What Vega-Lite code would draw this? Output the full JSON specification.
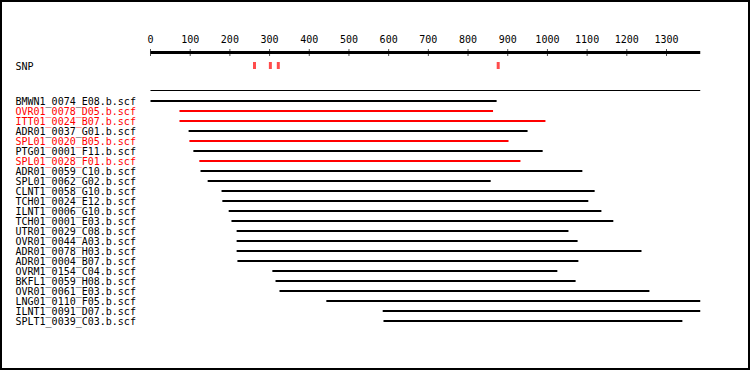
{
  "$schema": "https://vega.github.io/schema/vega-lite/v6.json",
  "width": 750,
  "height": 370,
  "padding": 1,
  "autosize": {"type": "fit", "contains": "padding"},
  "background": "#ffffff",
  "config": {
    "view": {"stroke": "#000000", "strokeWidth": 2},
    "axis": {
      "labelFont": "DejaVu Sans Mono",
      "labelFontSize": 10,
      "labelColor": "#000000",
      "domain": false,
      "ticks": false,
      "tickSize": 0,
      "grid": false,
      "minExtent": 0,
      "maxExtent": 0
    }
  },
  "datasets": {
    "tracks": [
      {"track": "axis", "start": 0, "end": 1385},
      {"track": "consensus", "start": 0, "end": 1385}
    ],
    "ticks": [
      {"track": "axis", "value": 0}, {"track": "axis", "value": 100}, {"track": "axis", "value": 200},
      {"track": "axis", "value": 300}, {"track": "axis", "value": 400}, {"track": "axis", "value": 500},
      {"track": "axis", "value": 600}, {"track": "axis", "value": 700}, {"track": "axis", "value": 800},
      {"track": "axis", "value": 900}, {"track": "axis", "value": 1000}, {"track": "axis", "value": 1100},
      {"track": "axis", "value": 1200}, {"track": "axis", "value": 1300}
    ],
    "snps": [
      {"track": "SNP", "position": 262},
      {"track": "SNP", "position": 302},
      {"track": "SNP", "position": 322},
      {"track": "SNP", "position": 876}
    ],
    "reads": [
      {"read": "BMWN1_0074_E08.b.scf", "start": 0, "end": 872, "selected": "no"},
      {"read": "OVR01_0078_D05.b.scf", "start": 73, "end": 863, "selected": "yes"},
      {"read": "ITT01_0024_B07.b.scf", "start": 73, "end": 995, "selected": "yes"},
      {"read": "ADR01_0037_G01.b.scf", "start": 96, "end": 950, "selected": "no"},
      {"read": "SPL01_0020_B05.b.scf", "start": 98, "end": 902, "selected": "yes"},
      {"read": "PTG01_0001_F11.b.scf", "start": 108, "end": 988, "selected": "no"},
      {"read": "SPL01_0028_F01.b.scf", "start": 123, "end": 932, "selected": "yes"},
      {"read": "ADR01_0059_C10.b.scf", "start": 126, "end": 1088, "selected": "no"},
      {"read": "SPL01_0062_G02.b.scf", "start": 144, "end": 857, "selected": "no"},
      {"read": "CLNT1_0058_G10.b.scf", "start": 179, "end": 1119, "selected": "no"},
      {"read": "TCH01_0024_E12.b.scf", "start": 181, "end": 1103, "selected": "no"},
      {"read": "ILNT1_0006_G10.b.scf", "start": 197, "end": 1136, "selected": "no"},
      {"read": "TCH01_0001_E03.b.scf", "start": 204, "end": 1166, "selected": "no"},
      {"read": "UTR01_0029_C08.b.scf", "start": 217, "end": 1053, "selected": "no"},
      {"read": "OVR01_0044_A03.b.scf", "start": 217, "end": 1076, "selected": "no"},
      {"read": "ADR01_0078_H03.b.scf", "start": 217, "end": 1237, "selected": "no"},
      {"read": "ADR01_0004_B07.b.scf", "start": 219, "end": 1078, "selected": "no"},
      {"read": "OVRM1_0154_C04.b.scf", "start": 307, "end": 1025, "selected": "no"},
      {"read": "BKFL1_0059_H08.b.scf", "start": 315, "end": 1071, "selected": "no"},
      {"read": "OVR01_0061_E03.b.scf", "start": 325, "end": 1257, "selected": "no"},
      {"read": "LNG01_0110_F05.b.scf", "start": 443, "end": 1385, "selected": "no"},
      {"read": "ILNT1_0091_D07.b.scf", "start": 585, "end": 1385, "selected": "no"},
      {"read": "SPLT1_0039_C03.b.scf", "start": 587, "end": 1340, "selected": "no"}
    ]
  },
  "layer": [
    {
      "layer": [
        {
          "data": {"name": "tracks"},
          "mark": {"type": "rule", "color": "#000000"},
          "encoding": {
            "x": {
              "field": "start", "type": "quantitative",
              "scale": {"domain": [-376.65, 1507.86], "nice": false, "zero": false},
              "axis": null
            },
            "x2": {"field": "end"},
            "y": {
              "field": "track", "type": "nominal",
              "scale": {"type": "point", "domain": ["axis", "consensus"], "range": [51.5, 89.5], "padding": 0},
              "axis": null
            },
            "strokeWidth": {"condition": {"test": "datum.track === 'axis'", "value": 3}, "value": 1}
          }
        },
        {
          "data": {"name": "ticks"},
          "mark": {"type": "tick", "color": "#000000", "thickness": 1, "size": 7},
          "encoding": {
            "x": {
              "field": "value", "type": "quantitative",
              "scale": {"domain": [-376.65, 1507.86], "nice": false, "zero": false},
              "axis": null
            },
            "y": {"field": "track", "type": "nominal", "axis": null}
          }
        },
        {
          "data": {"name": "ticks"},
          "mark": {
            "type": "text", "color": "#000000", "font": "DejaVu Sans Mono", "fontSize": 10,
            "align": "center", "baseline": "alphabetic", "dy": -9.5
          },
          "encoding": {
            "x": {
              "field": "value", "type": "quantitative",
              "scale": {"domain": [-376.65, 1507.86], "nice": false, "zero": false},
              "axis": null
            },
            "y": {"field": "track", "type": "nominal", "axis": null},
            "text": {"field": "value", "type": "quantitative", "format": "d"}
          }
        }
      ]
    },
    {
      "data": {"name": "snps"},
      "mark": {"type": "tick", "color": "#ff0000", "thickness": 3, "size": 7},
      "encoding": {
        "x": {
          "field": "position", "type": "quantitative",
          "scale": {"domain": [-376.65, 1507.86], "nice": false, "zero": false},
          "axis": null
        },
        "y": {
          "field": "track", "type": "nominal",
          "scale": {"type": "point", "domain": ["SNP"], "range": [64.5, 64.5], "padding": 0},
          "axis": {
            "orient": "left", "title": null, "labelAlign": "left", "labelPadding": -14,
            "labelBaseline": "alphabetic", "labelOffset": 3.5
          }
        }
      }
    },
    {
      "data": {"name": "reads"},
      "mark": {"type": "rule", "strokeWidth": 2},
      "encoding": {
        "x": {
          "field": "start", "type": "quantitative",
          "scale": {"domain": [-376.65, 1507.86], "nice": false, "zero": false},
          "axis": null
        },
        "x2": {"field": "end"},
        "y": {
          "field": "read", "type": "nominal",
          "scale": {
            "type": "point",
            "domain": [
              "BMWN1_0074_E08.b.scf", "OVR01_0078_D05.b.scf", "ITT01_0024_B07.b.scf",
              "ADR01_0037_G01.b.scf", "SPL01_0020_B05.b.scf", "PTG01_0001_F11.b.scf",
              "SPL01_0028_F01.b.scf", "ADR01_0059_C10.b.scf", "SPL01_0062_G02.b.scf",
              "CLNT1_0058_G10.b.scf", "TCH01_0024_E12.b.scf", "ILNT1_0006_G10.b.scf",
              "TCH01_0001_E03.b.scf", "UTR01_0029_C08.b.scf", "OVR01_0044_A03.b.scf",
              "ADR01_0078_H03.b.scf", "ADR01_0004_B07.b.scf", "OVRM1_0154_C04.b.scf",
              "BKFL1_0059_H08.b.scf", "OVR01_0061_E03.b.scf", "LNG01_0110_F05.b.scf",
              "ILNT1_0091_D07.b.scf", "SPLT1_0039_C03.b.scf"
            ],
            "range": [100, 320],
            "padding": 0
          },
          "axis": {
            "orient": "left", "title": null, "labelAlign": "left", "labelPadding": -14,
            "labelBaseline": "alphabetic", "labelOffset": 3, "labelLimit": 300,
            "labelColor": {
              "condition": {
                "test": "indexof(['OVR01_0078_D05.b.scf','ITT01_0024_B07.b.scf','SPL01_0020_B05.b.scf','SPL01_0028_F01.b.scf'], datum.value) >= 0",
                "value": "#ff0000"
              },
              "value": "#000000"
            }
          }
        },
        "color": {
          "field": "selected", "type": "nominal",
          "scale": {"domain": ["no", "yes"], "range": ["#000000", "#ff0000"]},
          "legend": null
        }
      }
    }
  ],
  "resolve": {"scale": {"y": "independent"}, "axis": {"y": "independent"}}
}
